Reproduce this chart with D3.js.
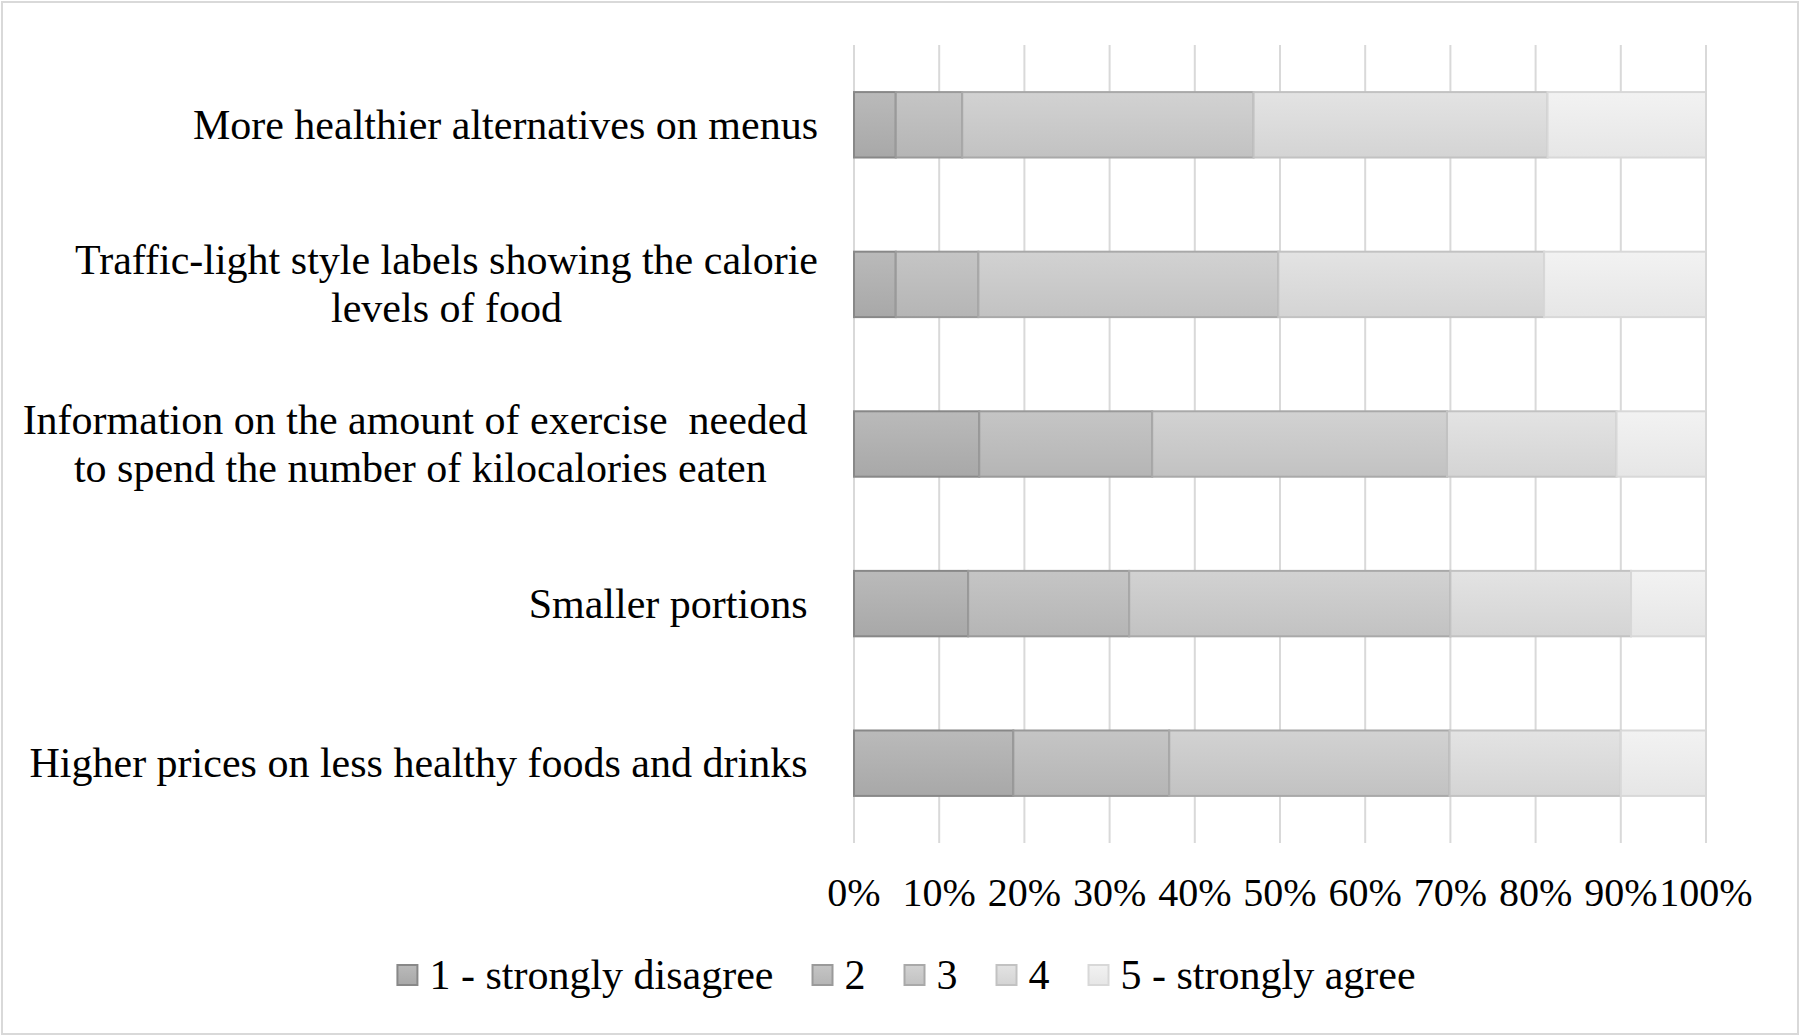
<!DOCTYPE html>
<html>
<head>
<meta charset="utf-8">
<script src="https://cdn.jsdelivr.net/npm/d3@7"></script>
<style>
  html, body { margin: 0; padding: 0; background: #fff; }
  svg text { font-family: "Liberation Serif", "Times New Roman", serif; fill: #000; }
</style>
</head>
<body>
<div id="chart"></div>
<script>
// categories, top to bottom (each entry = wrapped lines)
const categories = [
  ['More healthier alternatives on menus'],
  ['Traffic-light style labels showing the calorie', 'levels of food'],
  ['Information on the amount of exercise  needed ', 'to spend the number of kilocalories eaten'],
  ['Smaller portions '],
  ['Higher prices on less healthy foods and drinks ']
];
const seriesNames = ['1 - strongly disagree', '2', '3', '4', '5 - strongly agree'];
// shares in %, per category, series 1..5
const s1 = [4.9, 4.9, 14.7, 13.4, 18.7];
const s2 = [7.8, 9.7, 20.3, 18.9, 18.3];
const s3 = [34.2, 35.2, 34.6, 37.7, 32.9];
const s4 = [34.5, 31.2, 19.9, 21.2, 20.1];
const s5 = [18.6, 19.0, 10.5, 8.8, 10.0];
const tickValues = [0, 10, 20, 30, 40, 50, 60, 70, 80, 90, 100];

const fillTop = ['#bababa', '#c5c5c5', '#d2d2d2', '#e3e3e3', '#f2f2f2'];
const fillBottom = ['#a8a8a8', '#b5b5b5', '#c2c2c2', '#d4d4d4', '#e6e6e6'];
const strokes = ['#888888', '#9a9a9a', '#a9a9a9', '#c2c2c2', '#d8d8d8'];

const width = 1800, height = 1036;
const margin = { top: 45, right: 94, bottom: 193, left: 854 };
const tickFont = 40;
const labelFont = 42;

const svg = d3.select('#chart').append('svg')
  .attr('width', width)
  .attr('height', height);

const defs = svg.append('defs');
fillTop.forEach((c, i) => {
  const g = defs.append('linearGradient')
    .attr('id', 'grad' + i)
    .attr('x1', 0).attr('y1', 0).attr('x2', 0).attr('y2', 1);
  g.append('stop').attr('offset', '0%').attr('stop-color', c);
  g.append('stop').attr('offset', '100%').attr('stop-color', fillBottom[i]);
});

// chart border
svg.append('rect')
  .attr('x', 2).attr('y', 2)
  .attr('width', width - 4).attr('height', height - 4)
  .attr('fill', '#fff')
  .attr('stroke', '#d9d9d9')
  .attr('stroke-width', 2);

const plotW = width - margin.left - margin.right;
const plotH = height - margin.top - margin.bottom;

const x = d3.scaleLinear().domain([0, 100]).range([0, plotW]);
const y = d3.scaleBand()
  .domain(d3.range(categories.length))
  .range([0, plotH])
  .paddingInner(0.59)
  .paddingOuter(0.295);

const chart = svg.append('g')
  .attr('transform', `translate(${margin.left},${margin.top})`);

// gridlines
chart.append('g')
  .selectAll('line')
  .data(tickValues)
  .join('line')
  .attr('x1', d => x(d)).attr('x2', d => x(d))
  .attr('y1', 0).attr('y2', plotH)
  .attr('stroke', '#d9d9d9')
  .attr('stroke-width', 2);

// stacked bars
const rows = categories.map((c, i) => ({ i, 0: s1[i], 1: s2[i], 2: s3[i], 3: s4[i], 4: s5[i] }));
const stack = d3.stack().keys([0, 1, 2, 3, 4]);
const layers = stack(rows);

chart.selectAll('g.layer')
  .data(layers)
  .join('g')
  .attr('class', 'layer')
  .attr('fill', (d, k) => `url(#grad${k})`)
  .attr('stroke', (d, k) => strokes[k])
  .attr('stroke-width', 2)
  .selectAll('rect')
  .data(d => d)
  .join('rect')
  .attr('x', d => x(d[0]))
  .attr('width', d => x(d[1]) - x(d[0]))
  .attr('y', d => y(d.data.i))
  .attr('height', y.bandwidth());

// x axis labels
chart.append('g')
  .selectAll('text')
  .data(tickValues)
  .join('text')
  .attr('x', d => x(d))
  .attr('y', 861)
  .attr('text-anchor', 'middle')
  .style('font-size', tickFont + 'px')
  .text(d => d + '%');

// category labels
const labelRight = -36;
const lineH = 48;
categories.forEach((lines, i) => {
  const g = chart.append('g');
  const cy = y(i) + y.bandwidth() / 2;
  const texts = lines.map((t, j) => g.append('text')
    .attr('y', cy + 14 + (j - (lines.length - 1) / 2) * lineH)
    .style('font-size', labelFont + 'px')
    .attr('text-anchor', 'middle')
    .attr('xml:space', 'preserve')
    .style('white-space', 'pre')
    .text(t));
  const maxW = d3.max(texts, t => t.node().getComputedTextLength());
  texts.forEach(t => t.attr('x', labelRight - maxW / 2));
});

// legend
const legend = svg.append('g');
const itemGap = 38;
let lx = 0;
seriesNames.forEach((name, k) => {
  const item = legend.append('g').attr('transform', `translate(${lx},0)`);
  item.append('rect')
    .attr('x', 1).attr('y', -24)
    .attr('width', 20).attr('height', 20)
    .attr('fill', `url(#grad${k})`)
    .attr('stroke', strokes[k])
    .attr('stroke-width', 2);
  const t = item.append('text')
    .attr('x', 33).attr('y', 0)
    .style('font-size', labelFont + 'px')
    .text(name);
  lx += 33 + t.node().getComputedTextLength() + itemGap;
});
const legendW = lx - itemGap;
legend.attr('transform', `translate(${906 - legendW / 2},989)`);
</script>
</body>
</html>
